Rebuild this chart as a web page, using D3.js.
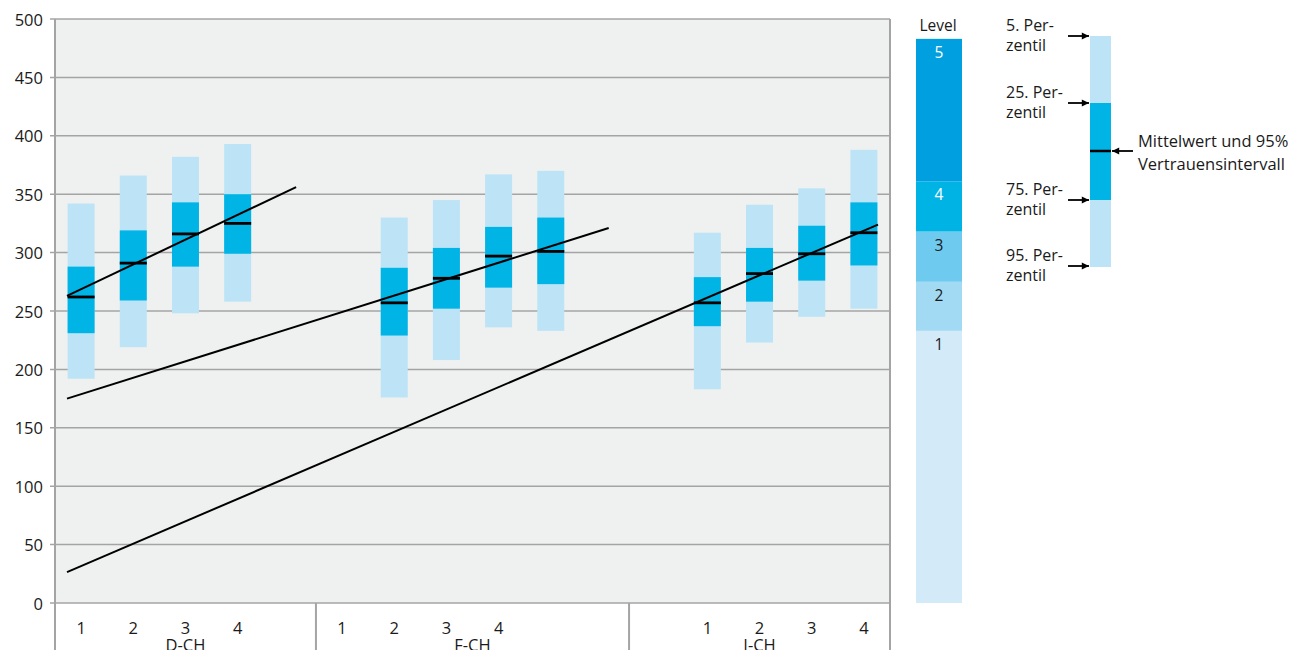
<!DOCTYPE html>
<html>
<head>
<meta charset="utf-8">
<script src="https://cdn.jsdelivr.net/npm/d3@7"></script>
<style>
  body { margin: 0; background: #fff; }
  text { font-family: "Open Sans", "Noto Sans", sans-serif; fill: #1a1a1a; }
</style>
</head>
<body>
<div id="chart"></div>
<script>
// slot positions on the category axis (16 slots: D-CH 5, F-CH 6, I-CH 5)
var groups = ['D-CH', 'F-CH', 'I-CH'];
var groupSlots = [[0, 5], [5, 11], [11, 16]];
var tickLabels = ['1', '2', '3', '4', '1', '2', '3', '4', '1', '2', '3', '4'];
var tickSlots = [0, 1, 2, 3, 5, 6, 7, 8, 12, 13, 14, 15];

// boxes: slot, 95th pct (low), 75th, mean, 25th, 5th pct (high)
var boxSlots = [0, 1, 2, 3, 6, 7, 8, 9, 12, 13, 14, 15];
var p5 = [192, 219, 248, 258, 176, 208, 236, 233, 183, 223, 245, 252];
var p25 = [231, 259, 288, 299, 229, 252, 270, 273, 237, 258, 276, 289];
var means = [262, 291, 316, 325, 257, 278, 297, 301, 257, 282, 299, 317];
var p75 = [288, 319, 343, 350, 287, 304, 322, 330, 279, 304, 323, 343];
var p95 = [342, 366, 382, 393, 330, 345, 367, 370, 317, 341, 355, 388];

// trend lines: [slotStart, valueStart, slotEnd, valueEnd]
var trendLines = [
  [0.23, 263, 4.62, 356],
  [0.23, 175, 10.61, 321],
  [0.23, 26.5, 15.77, 324]
];

// level bands
var levelNames = ['1', '2', '3', '4', '5'];
var levelBounds = [0, 233, 275, 318, 361, 483];
var levelColors = ['#d3eaf8', '#a3daf3', '#6ecaee', '#00b3e5', '#009fdf'];
var levelTextColors = ['#1a1a1a', '#1a1a1a', '#1a1a1a', '#ffffff', '#ffffff'];

var yTicks = [0, 50, 100, 150, 200, 250, 300, 350, 400, 450, 500];

var legendLabels = [['5. Per-', 'zentil'], ['25. Per-', 'zentil'], ['75. Per-', 'zentil'], ['95. Per-', 'zentil']];

var W = 1302, H = 650;
var svg = d3.select('#chart').append('svg').attr('width', W).attr('height', H);

var x = d3.scaleLinear().domain([0, 16]).range([55, 890]);
var y = d3.scaleLinear().domain([0, 500]).range([603, 19]);
var boxW = 27;
var light = '#bce4f6', dark = '#00b4e6', grid = '#a4a4a4';

// plot background
svg.append('rect')
  .attr('x', x(0)).attr('y', y(500))
  .attr('width', x(16) - x(0)).attr('height', y(0) - y(500))
  .attr('fill', '#eff1f0');

// gridlines + ticks
svg.selectAll('.grid').data(yTicks).enter().append('line')
  .attr('x1', x(0) - 5).attr('x2', x(16))
  .attr('y1', function(d) { return y(d); }).attr('y2', function(d) { return y(d); })
  .attr('stroke', grid).attr('stroke-width', 1.5);

svg.selectAll('.ylab').data(yTicks).enter().append('text')
  .attr('x', 43).attr('y', function(d) { return y(d); })
  .attr('text-anchor', 'end').attr('dominant-baseline', 'central')
  .style('font-size', '16.5px')
  .text(function(d) { return d; });

// axis frame lines
[0, 16].forEach(function(s) {
  svg.append('line').attr('x1', x(s)).attr('x2', x(s))
    .attr('y1', y(500)).attr('y2', H)
    .attr('stroke', grid).attr('stroke-width', 2);
});
groupSlots.forEach(function(g, i) {
  if (i > 0) {
    svg.append('line').attr('x1', x(g[0])).attr('x2', x(g[0]))
      .attr('y1', y(0)).attr('y2', H)
      .attr('stroke', grid).attr('stroke-width', 2);
  }
});

// boxes
var boxes = svg.selectAll('.box').data(boxSlots).enter().append('g');
boxes.append('rect')
  .attr('x', function(d) { return x(d + 0.5) - boxW / 2; })
  .attr('width', boxW)
  .attr('y', function(d, i) { return y(p95[i]); })
  .attr('height', function(d, i) { return y(p5[i]) - y(p95[i]); })
  .attr('fill', light);
boxes.append('rect')
  .attr('x', function(d) { return x(d + 0.5) - boxW / 2; })
  .attr('width', boxW)
  .attr('y', function(d, i) { return y(p75[i]); })
  .attr('height', function(d, i) { return y(p25[i]) - y(p75[i]); })
  .attr('fill', dark);
boxes.append('line')
  .attr('x1', function(d) { return x(d + 0.5) - boxW / 2; })
  .attr('x2', function(d) { return x(d + 0.5) + boxW / 2; })
  .attr('y1', function(d, i) { return y(means[i]); })
  .attr('y2', function(d, i) { return y(means[i]); })
  .attr('stroke', '#000').attr('stroke-width', 2.8);

// trend lines
svg.selectAll('.trend').data(trendLines).enter().append('line')
  .attr('x1', function(d) { return x(d[0]); })
  .attr('y1', function(d) { return y(d[1]); })
  .attr('x2', function(d) { return x(d[2]); })
  .attr('y2', function(d) { return y(d[3]); })
  .attr('stroke', '#000').attr('stroke-width', 2);

// category labels
svg.selectAll('.xlab').data(tickLabels).enter().append('text')
  .attr('x', function(d, i) { return x(tickSlots[i] + 0.5); })
  .attr('y', 627)
  .attr('text-anchor', 'middle').attr('dominant-baseline', 'central')
  .style('font-size', '16.5px')
  .text(function(d) { return d; });

svg.selectAll('.glab').data(groups).enter().append('text')
  .attr('x', function(d, i) { return (x(groupSlots[i][0]) + x(groupSlots[i][1])) / 2; })
  .attr('y', 644)
  .attr('text-anchor', 'middle').attr('dominant-baseline', 'central')
  .style('font-size', '16.5px')
  .text(function(d) { return d; });

// level bar
var lvX = 916, lvW = 46;
svg.selectAll('.lv').data(levelNames).enter().append('rect')
  .attr('x', lvX).attr('width', lvW)
  .attr('y', function(d, i) { return y(levelBounds[i + 1]); })
  .attr('height', function(d, i) { return y(levelBounds[i]) - y(levelBounds[i + 1]); })
  .attr('fill', function(d, i) { return levelColors[i]; });
svg.selectAll('.lvt').data(levelNames).enter().append('text')
  .attr('x', lvX + lvW / 2)
  .attr('y', function(d, i) { return y(levelBounds[i + 1]) + 13; })
  .attr('text-anchor', 'middle').attr('dominant-baseline', 'central')
  .style('font-size', '15.5px')
  .style('fill', function(d, i) { return levelTextColors[i]; })
  .text(function(d) { return d; });
svg.append('text')
  .attr('x', lvX + lvW / 2 - 1).attr('y', 25)
  .attr('text-anchor', 'middle').attr('dominant-baseline', 'central')
  .style('font-size', '15.5px')
  .text('Level');

// legend box
var lgX = 1090, lgW = 21;
var lgY = [36, 103, 151, 200, 267];
svg.append('rect').attr('x', lgX).attr('width', lgW)
  .attr('y', lgY[0]).attr('height', lgY[4] - lgY[0]).attr('fill', light);
svg.append('rect').attr('x', lgX).attr('width', lgW)
  .attr('y', lgY[1]).attr('height', lgY[3] - lgY[1]).attr('fill', dark);
svg.append('line').attr('x1', lgX).attr('x2', lgX + lgW)
  .attr('y1', lgY[2]).attr('y2', lgY[2])
  .attr('stroke', '#000').attr('stroke-width', 2.5);

var defs = svg.append('defs');
defs.append('marker').attr('id', 'arr')
  .attr('viewBox', '0 0 10 10').attr('refX', 10).attr('refY', 5)
  .attr('markerWidth', 4.5).attr('markerHeight', 4).attr('orient', 'auto')
  .append('path').attr('d', 'M0,0L10,5L0,10Z').attr('fill', '#000');

var arrowYs = [lgY[0], lgY[1], lgY[3], lgY[4] - 1];
arrowYs.forEach(function(ay, i) {
  svg.append('line').attr('x1', 1068).attr('x2', lgX - 1)
    .attr('y1', ay).attr('y2', ay)
    .attr('stroke', '#000').attr('stroke-width', 1.8)
    .attr('marker-end', 'url(#arr)');
  svg.append('text').attr('x', 1006).attr('y', ay - 11)
    .attr('dominant-baseline', 'central').style('font-size', '16px')
    .text(legendLabels[i][0]);
  svg.append('text').attr('x', 1006).attr('y', ay + 9)
    .attr('dominant-baseline', 'central').style('font-size', '16px')
    .text(legendLabels[i][1]);
});
svg.append('line').attr('x1', 1133).attr('x2', lgX + lgW + 1)
  .attr('y1', lgY[2]).attr('y2', lgY[2])
  .attr('stroke', '#000').attr('stroke-width', 1.8)
  .attr('marker-end', 'url(#arr)');
svg.append('text').attr('x', 1138).attr('y', 140)
  .attr('dominant-baseline', 'central').style('font-size', '16.5px')
  .text('Mittelwert und 95%');
svg.append('text').attr('x', 1138).attr('y', 163)
  .attr('dominant-baseline', 'central').style('font-size', '16.5px')
  .text('Vertrauensintervall');
</script>
</body>
</html>
